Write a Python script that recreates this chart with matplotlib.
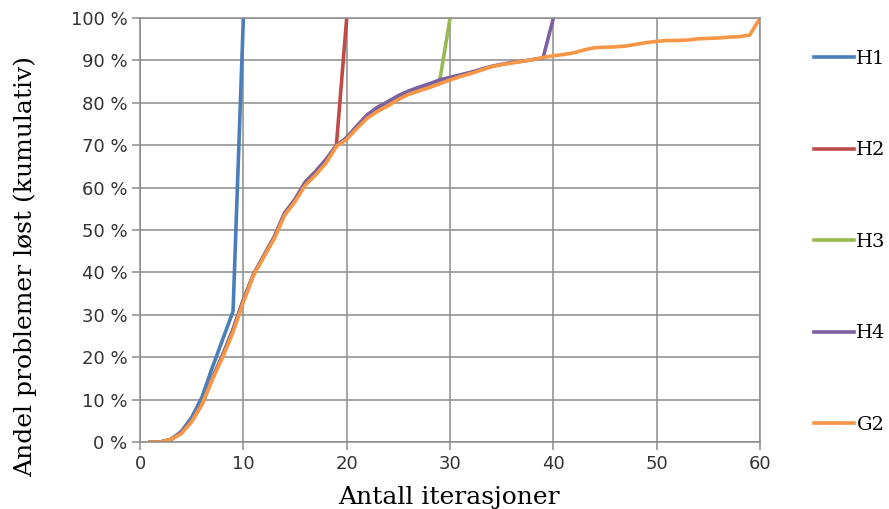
import matplotlib
matplotlib.use("Agg")
import matplotlib.pyplot as plt

# iteration count
iters = list(range(1, 61))

# cumulative share of problems solved (%) for G2
g2 = [0, 0, 0.6, 2.0, 4.8, 8.9, 14.8, 20.0, 25.9, 33.0,
      39.4, 43.7, 48.0, 53.5, 56.7, 60.6, 63.0, 65.8, 69.7, 71.4,
      74.0, 76.4, 78.0, 79.3, 80.8, 82.0, 82.8, 83.6, 84.5, 85.4,
      86.2, 86.9, 87.7, 88.5, 89.0, 89.4, 89.8, 90.2, 90.7, 91.1,
      91.4, 91.8, 92.5, 93.0, 93.1, 93.2, 93.4, 93.8, 94.2, 94.5,
      94.7, 94.7, 94.8, 95.1, 95.2, 95.3, 95.5, 95.6, 96.0, 100.0]

h1 = [0, 0, 0.6, 2.5, 5.8, 10.6, 17.6, 24.2, 30.8, 100.0]
h2 = [0, 0, 0.6, 2.2, 5.0, 9.0, 15.0, 20.5, 26.5, 33.5,
      39.6, 44.0, 48.4, 54.0, 57.2, 61.3, 63.8, 66.6, 70.0, 100.0]
h3 = [0, 0, 0.6, 2.2, 5.0, 9.0, 15.0, 20.5, 26.5, 33.5,
      39.6, 44.0, 48.4, 54.0, 57.2, 61.3, 63.8, 66.6, 69.9, 71.8,
      74.4, 77.0, 78.8, 80.0, 81.4, 82.6, 83.5, 84.3, 85.2, 100.0]
h4 = [0, 0, 0.6, 2.2, 5.0, 9.0, 15.0, 20.5, 26.5, 33.5,
      39.6, 44.0, 48.4, 54.0, 57.2, 61.3, 63.8, 66.6, 69.9, 71.8,
      74.6, 77.2, 79.0, 80.3, 81.7, 82.8, 83.7, 84.5, 85.4, 86.0,
      86.6, 87.2, 87.9, 88.6, 89.1, 89.5, 89.8, 90.2, 90.6, 100.0]

series = [("H1", h1, "#4a7ebb"), ("H2", h2, "#be4b48"), ("H3", h3, "#98b954"),
          ("H4", h4, "#7d60a0"), ("G2", g2, "#f79646")]

yticks = list(range(0, 101, 10))
xticks = list(range(0, 61, 10))

fig = plt.figure(figsize=(8.89, 5.09), dpi=100)
ax = fig.add_axes([0.1575, 0.1316, 0.6975, 0.833])

for name, vals, col in series:
    ax.plot(iters[:len(vals)], vals, color=col, lw=2.6, label=name,
            solid_joinstyle="round")

ax.set_xlim(0, 60)
ax.set_ylim(0, 100)
ax.set_xticks(xticks)
ax.set_yticks(yticks)
ax.set_yticklabels([f"{v} %" for v in yticks])
ax.grid(True, color="#8c8c8c", lw=1.1)
for s in ax.spines.values():
    s.set_color("#8c8c8c")
    s.set_linewidth(1.1)
ax.tick_params(length=6, width=1.1, color="#8c8c8c", labelsize=13,
               labelcolor="#333333", pad=3)
for lab in ax.get_xticklabels() + ax.get_yticklabels():
    lab.set_family("DejaVu Sans")

ax.set_xlabel("Antall iterasjoner", family="DejaVu Serif", fontsize=18)
ax.set_ylabel("Andel problemer løst (kumulativ)", family="DejaVu Serif",
              fontsize=18)
ax.xaxis.set_label_coords(0.498, -0.13)
ax.yaxis.set_label_coords(-0.185, 0.414)
ax.xaxis.label.set_va("center")
ax.yaxis.label.set_va("center")

ax.legend(loc="upper left", bbox_to_anchor=(1.075, 0.943), frameon=False,
          prop={"family": "DejaVu Serif", "size": 14}, handlelength=2.06,
          handletextpad=0.1, labelspacing=3.78, borderaxespad=0)

fig.savefig("out.png")
